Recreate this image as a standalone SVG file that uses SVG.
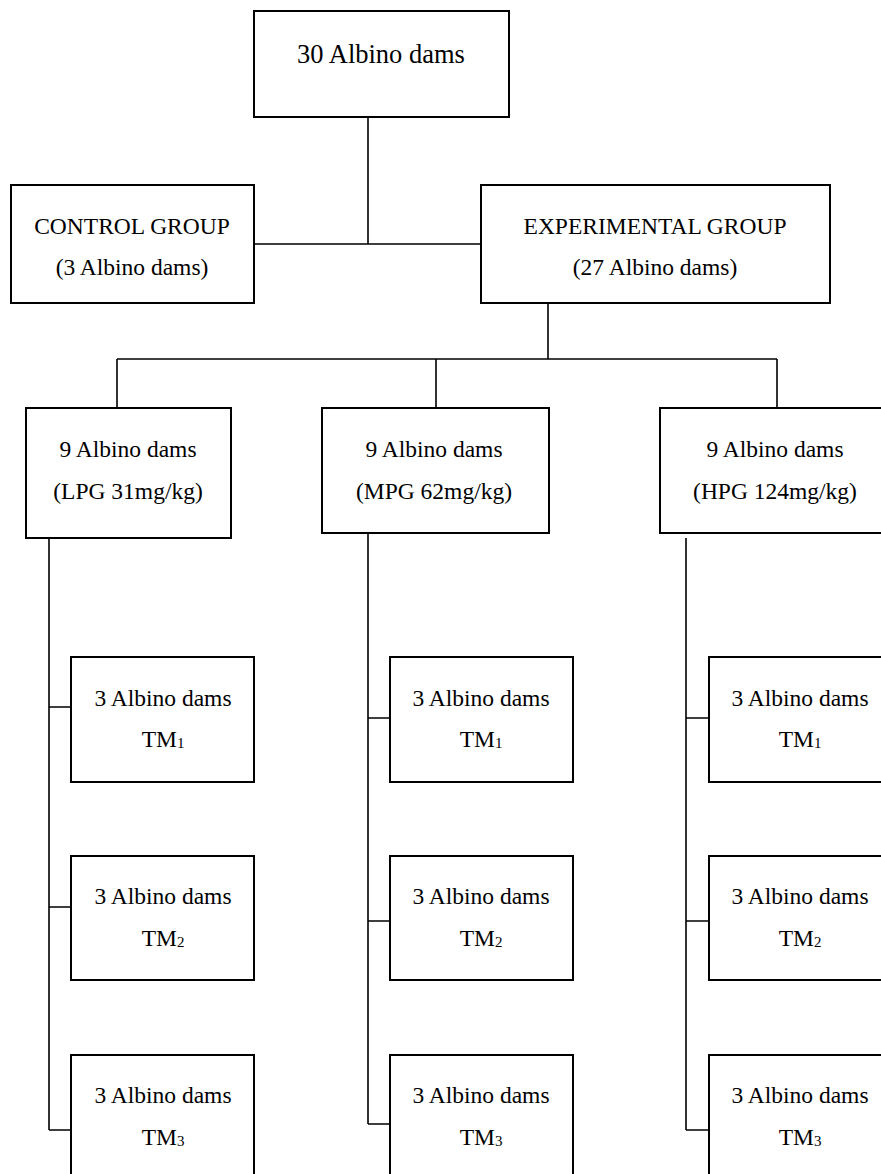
<svg xmlns="http://www.w3.org/2000/svg" width="881" height="1174" viewBox="0 0 881 1174">
<style>
.box{fill:#fff;stroke:#000;stroke-width:2}
.ln{fill:none;stroke:#000;stroke-width:1.6}
text{font-family:"Liberation Serif","Times New Roman",serif;font-size:23.5px;fill:#000;text-anchor:middle}
.big{font-size:26.5px}
.sub{font-size:15px}
</style>
<rect width="881" height="1174" fill="#fff"/>
<g id="connectors">
<path class="ln" d="M368 117V244M254 244H481M548 303V359M117 359H777M117 359V408M436 359V408M777 359V408"/>
<path class="ln" d="M49 538V1130M49 707H71M49 907H71M49 1130H71"/>
<path class="ln" d="M368 533V1124M368 718H390M368 921H390M368 1124H390"/>
<path class="ln" d="M686 538V1130M686 718H709M686 921H709M686 1130H709"/>
</g>
<g id="n_top"><rect class="box" x="254" y="11" width="255" height="106"/><text class="big" x="381" y="63">30 Albino dams</text></g>
<g id="n_control"><rect class="box" x="11" y="185" width="243" height="118"/><text x="132" y="234">CONTROL GROUP</text><text x="132" y="275">(3 Albino dams)</text></g>
<g id="n_exp"><rect class="box" x="481" y="185" width="349" height="118"/><text x="655" y="234">EXPERIMENTAL GROUP</text><text x="655" y="275">(27 Albino dams)</text></g>
<g id="n_lpg"><rect class="box" x="26" y="408" width="205" height="130"/><text x="128" y="457">9 Albino dams</text><text x="128" y="499">(LPG 31mg/kg)</text></g>
<g id="n_mpg"><rect class="box" x="322" y="408" width="227" height="125"/><text x="434" y="457">9 Albino dams</text><text x="434" y="499">(MPG 62mg/kg)</text></g>
<g id="n_hpg"><rect class="box" x="660" y="408" width="230" height="125"/><text x="775" y="457">9 Albino dams</text><text x="775" y="499">(HPG 124mg/kg)</text></g>
<g id="n_l1"><rect class="box" x="71" y="657" width="183" height="125"/><text x="163" y="706">3 Albino dams</text><text x="163" y="747">TM<tspan class="sub" dy="1">1</tspan></text></g>
<g id="n_l2"><rect class="box" x="71" y="856" width="183" height="124"/><text x="163" y="904">3 Albino dams</text><text x="163" y="946">TM<tspan class="sub" dy="1">2</tspan></text></g>
<g id="n_l3"><rect class="box" x="71" y="1055" width="183" height="130"/><text x="163" y="1103">3 Albino dams</text><text x="163" y="1145">TM<tspan class="sub" dy="1">3</tspan></text></g>
<g id="n_m1"><rect class="box" x="390" y="657" width="183" height="125"/><text x="481" y="706">3 Albino dams</text><text x="481" y="747">TM<tspan class="sub" dy="1">1</tspan></text></g>
<g id="n_m2"><rect class="box" x="390" y="856" width="183" height="124"/><text x="481" y="904">3 Albino dams</text><text x="481" y="946">TM<tspan class="sub" dy="1">2</tspan></text></g>
<g id="n_m3"><rect class="box" x="390" y="1055" width="183" height="130"/><text x="481" y="1103">3 Albino dams</text><text x="481" y="1145">TM<tspan class="sub" dy="1">3</tspan></text></g>
<g id="n_h1"><rect class="box" x="709" y="657" width="183" height="125"/><text x="800" y="706">3 Albino dams</text><text x="800" y="747">TM<tspan class="sub" dy="1">1</tspan></text></g>
<g id="n_h2"><rect class="box" x="709" y="856" width="183" height="124"/><text x="800" y="904">3 Albino dams</text><text x="800" y="946">TM<tspan class="sub" dy="1">2</tspan></text></g>
<g id="n_h3"><rect class="box" x="709" y="1055" width="183" height="130"/><text x="800" y="1103">3 Albino dams</text><text x="800" y="1145">TM<tspan class="sub" dy="1">3</tspan></text></g>
</svg>
